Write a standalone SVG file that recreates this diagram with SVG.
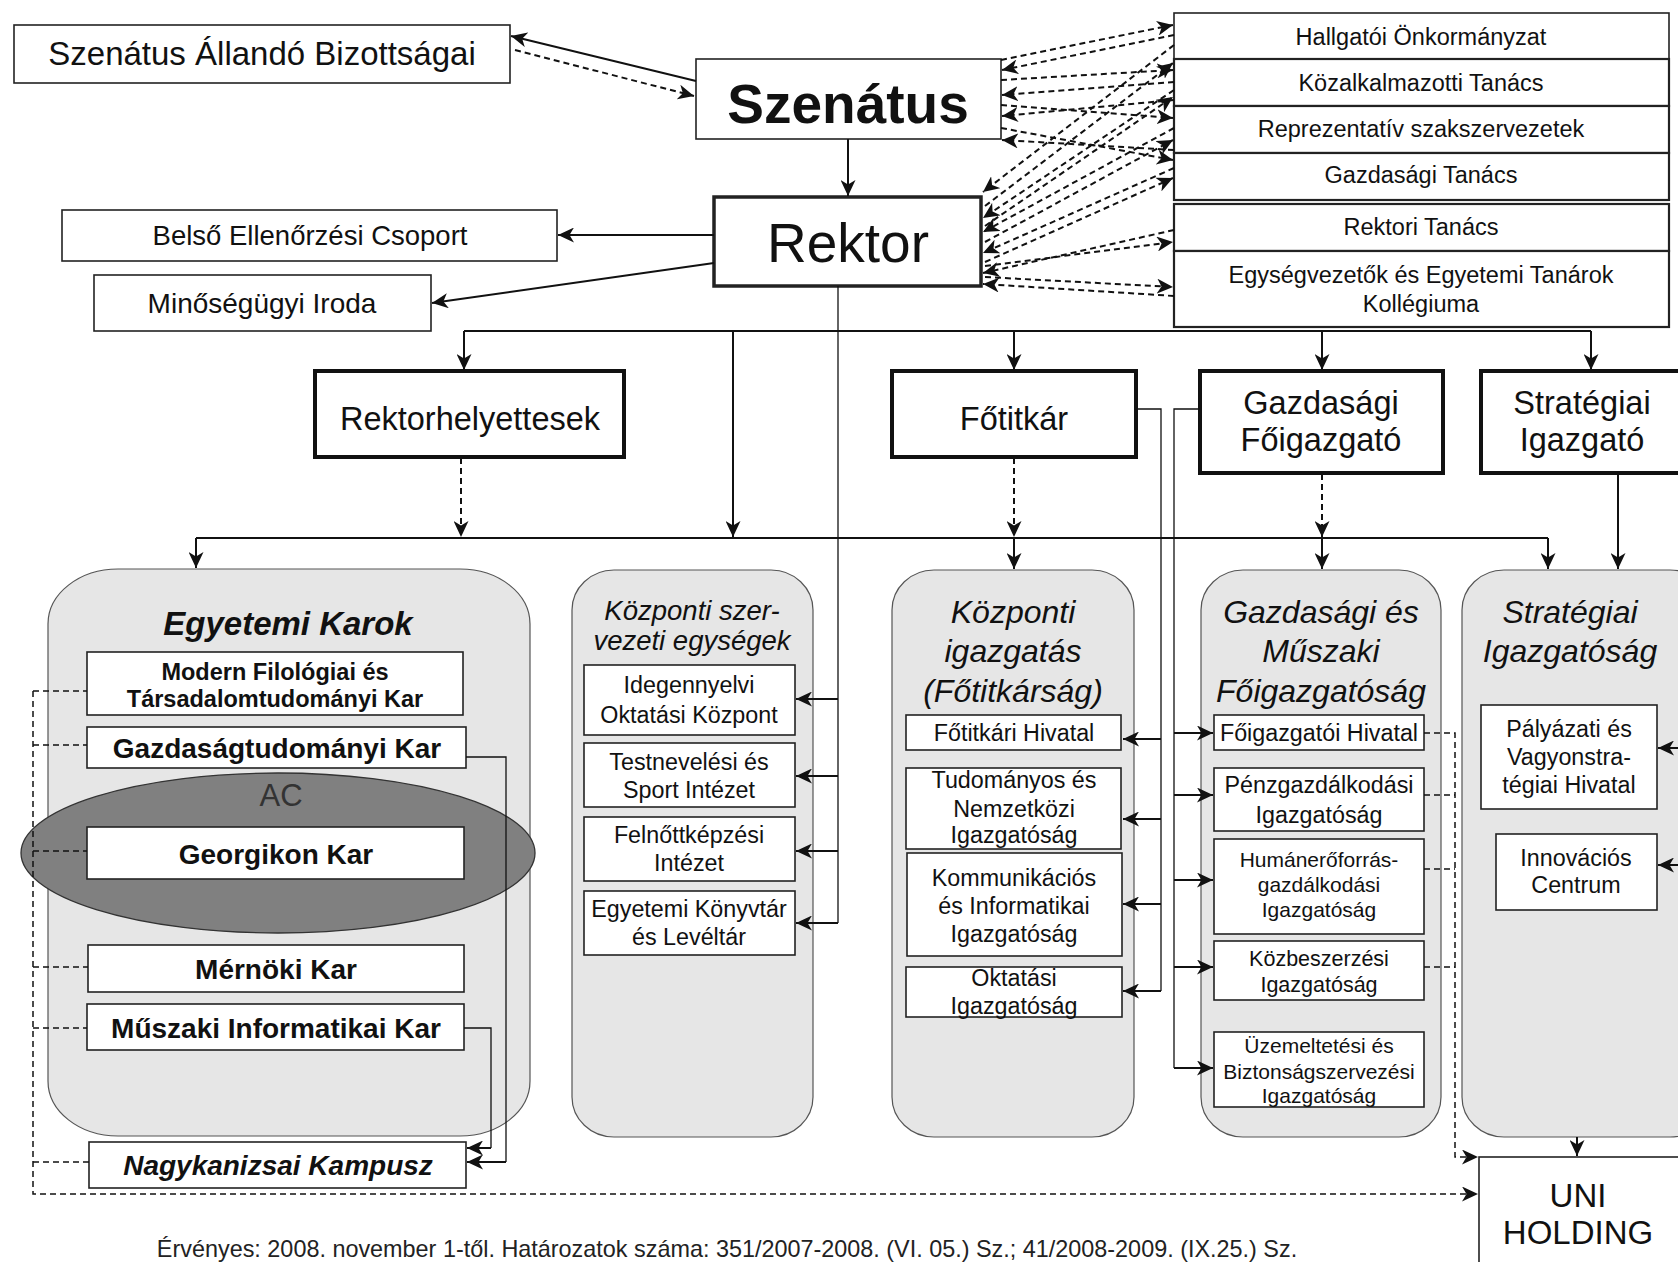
<svg xmlns="http://www.w3.org/2000/svg" width="1678" height="1262" viewBox="0 0 1678 1262">
<defs>
<marker id="ah" markerUnits="userSpaceOnUse" markerWidth="16" markerHeight="15" viewBox="0 0 16 15" refX="16" refY="7.5" orient="auto">
<path d="M0,0 L16,7.5 L0,15 L4.5,7.5 z" fill="#111"/>
</marker>
<style>
.bx{fill:#fff;stroke:#222;stroke-width:1.6}
.bk{fill:#fff;stroke:#111;stroke-width:4}
.ct{fill:#e6e6e6;stroke:#555;stroke-width:1.2}
text{font-family:"Liberation Sans",Arial,sans-serif;fill:#111;text-anchor:middle}
.b{font-weight:bold}
.i{font-style:italic}
.s{stroke:#111;stroke-width:2;fill:none}
.th{stroke:#111;stroke-width:1.3;fill:none}
.d{stroke:#111;stroke-width:2;fill:none;stroke-dasharray:6 4}
.dt{stroke:#111;stroke-width:1.5;fill:none;stroke-dasharray:6 4}
.m{marker-end:url(#ah)}
</style>
</defs>
<rect width="1678" height="1262" fill="#fff"/>

<g id="containers">
<g id="egyetemi-karok"><rect class="ct" x="48" y="569" width="482" height="567" rx="70" ry="55"/><text class="b i" x="288" y="635" font-size="33">Egyetemi Karok</text></g>
<g id="kozponti-szerv"><rect class="ct" x="572" y="570" width="241" height="567" rx="42" ry="40"/><text class="i" x="692" y="620" font-size="27.5">Központi szer-</text><text class="i" x="692" y="650" font-size="27.5">vezeti egységek</text></g>
<g id="kozponti-igazgatas"><rect class="ct" x="892" y="570" width="242" height="567" rx="42" ry="40"/><text class="i" x="1013" y="623" font-size="32">Központi</text><text class="i" x="1013" y="662" font-size="32">igazgatás</text><text class="i" x="1013" y="702" font-size="32">(Főtitkárság)</text></g>
<g id="gazdasagi-muszaki"><rect class="ct" x="1201" y="570" width="240" height="567" rx="42" ry="40"/><text class="i" x="1321" y="623" font-size="32">Gazdasági és</text><text class="i" x="1321" y="662" font-size="32">Műszaki</text><text class="i" x="1321" y="702" font-size="32">Főigazgatóság</text></g>
<g id="strategiai-igazgatosag"><rect class="ct" x="1462" y="570" width="250" height="567" rx="42" ry="40"/><text class="i" x="1570" y="623" font-size="32">Stratégiai</text><text class="i" x="1570" y="662" font-size="32">Igazgatóság</text></g>
</g>

<g id="ac"><ellipse cx="278" cy="853" rx="257" ry="80" fill="#808080" stroke="#333" stroke-width="1.3"/><text x="281" y="806" font-size="31" style="fill:#333">AC</text></g>

<g id="szenatus-allando"><rect class="bx" x="14" y="25" width="496" height="58"/><text x="262" y="65" font-size="33">Szenátus Állandó Bizottságai</text></g>
<g id="szenatus"><rect class="bx" x="696" y="59" width="305" height="80"/><text class="b" x="848" y="123" font-size="55">Szenátus</text></g>
<g id="rektor"><rect class="bx" x="714" y="197" width="267" height="89" style="stroke-width:3.5"/><text x="848" y="262" font-size="55">Rektor</text></g>
<g id="belso"><rect class="bx" x="62" y="210" width="495" height="51"/><text x="310" y="245" font-size="27.5">Belső Ellenőrzési Csoport</text></g>
<g id="minoseg"><rect class="bx" x="94" y="275" width="337" height="56"/><text x="262" y="313" font-size="28">Minőségügyi Iroda</text></g>

<g id="hallgatoi"><rect class="bx" x="1174" y="13" width="495" height="46"/><text x="1421" y="45" font-size="23.5">Hallgatói Önkormányzat</text></g>
<g id="kozalkalmazotti"><rect class="bx" x="1174" y="59" width="495" height="47" style="stroke-width:2.2"/><text x="1421" y="91" font-size="23.5">Közalkalmazotti Tanács</text></g>
<g id="reprezentativ"><rect class="bx" x="1174" y="106" width="495" height="47" style="stroke-width:2.2"/><text x="1421" y="137" font-size="23.5">Reprezentatív szakszervezetek</text></g>
<g id="gazdasagi-tanacs"><rect class="bx" x="1174" y="153" width="495" height="47" style="stroke-width:2.2"/><text x="1421" y="183" font-size="23.5">Gazdasági Tanács</text></g>
<g id="rektori-tanacs"><rect class="bx" x="1174" y="204" width="495" height="47" style="stroke-width:2.2"/><text x="1421" y="235" font-size="23.5">Rektori Tanács</text></g>
<g id="egysegvezetok"><rect class="bx" x="1174" y="251" width="495" height="76" style="stroke-width:2.2"/><text x="1421" y="283" font-size="23.5">Egységvezetők és Egyetemi Tanárok</text><text x="1421" y="312" font-size="23.5">Kollégiuma</text></g>

<g id="rektorhelyettesek"><rect class="bk" x="315" y="371" width="309" height="86"/><text x="470" y="430" font-size="32.5">Rektorhelyettesek</text></g>
<g id="fotitkar"><rect class="bk" x="892" y="371" width="244" height="86"/><text x="1014" y="430" font-size="32.5">Főtitkár</text></g>
<g id="gazdasagi-foigazgato"><rect class="bk" x="1200" y="371" width="243" height="102"/><text x="1321" y="414" font-size="32.5">Gazdasági</text><text x="1321" y="451" font-size="32.5">Főigazgató</text></g>
<g id="strategiai-igazgato"><rect class="bk" x="1481" y="371" width="230" height="102"/><text x="1582" y="414" font-size="32.5">Stratégiai</text><text x="1582" y="451" font-size="32.5">Igazgató</text></g>

<g id="modern"><rect class="bx" x="87" y="652" width="376" height="63"/><text class="b" x="275" y="680" font-size="23.5">Modern Filológiai és</text><text class="b" x="275" y="707" font-size="23.5">Társadalomtudományi Kar</text></g>
<g id="gazdasagtudomanyi"><rect class="bx" x="87" y="727" width="379" height="41"/><text class="b" x="277" y="758" font-size="28">Gazdaságtudományi Kar</text></g>
<g id="georgikon"><rect class="bx" x="87" y="827" width="377" height="52"/><text class="b" x="276" y="864" font-size="28">Georgikon Kar</text></g>
<g id="mernoki"><rect class="bx" x="88" y="945" width="376" height="47"/><text class="b" x="276" y="979" font-size="28">Mérnöki Kar</text></g>
<g id="muszaki"><rect class="bx" x="87" y="1004" width="377" height="46"/><text class="b" x="276" y="1038" font-size="28">Műszaki Informatikai Kar</text></g>
<g id="nagykanizsai"><rect class="bx" x="89" y="1142" width="377" height="46"/><text class="b i" x="278" y="1175" font-size="28">Nagykanizsai Kampusz</text></g>

<g id="idegennyelvi"><rect class="bx" x="584" y="665" width="211" height="70"/><text x="689" y="693" font-size="23.3">Idegennyelvi</text><text x="689" y="723" font-size="23.3">Oktatási Központ</text></g>
<g id="testnevelesi"><rect class="bx" x="584" y="743" width="211" height="64"/><text x="689" y="770" font-size="23.3">Testnevelési és</text><text x="689" y="798" font-size="23.3">Sport Intézet</text></g>
<g id="felnottkepzesi"><rect class="bx" x="584" y="817" width="211" height="64"/><text x="689" y="843" font-size="23.3">Felnőttképzési</text><text x="689" y="871" font-size="23.3">Intézet</text></g>
<g id="konyvtar"><rect class="bx" x="584" y="891" width="211" height="64"/><text x="689" y="917" font-size="23.3">Egyetemi Könyvtár</text><text x="689" y="945" font-size="23.3">és Levéltár</text></g>

<g id="fotitkari-hivatal"><rect class="bx" x="906" y="715" width="215" height="35"/><text x="1014" y="741" font-size="23.3">Főtitkári Hivatal</text></g>
<g id="tudomanyos"><rect class="bx" x="906" y="768" width="215" height="81"/><text x="1014" y="788" font-size="23.3">Tudományos és</text><text x="1014" y="817" font-size="23.3">Nemzetközi</text><text x="1014" y="843" font-size="23.3">Igazgatóság</text></g>
<g id="kommunikacios"><rect class="bx" x="907" y="853" width="215" height="103"/><text x="1014" y="886" font-size="23.3">Kommunikációs</text><text x="1014" y="914" font-size="23.3">és Informatikai</text><text x="1014" y="942" font-size="23.3">Igazgatóság</text></g>
<g id="oktatasi"><rect class="bx" x="906" y="967" width="216" height="50"/><text x="1014" y="986" font-size="23.3">Oktatási</text><text x="1014" y="1014" font-size="23.3">Igazgatóság</text></g>

<g id="foigazgatoi-hivatal"><rect class="bx" x="1214" y="715" width="210" height="35"/><text x="1319" y="741" font-size="23.3">Főigazgatói Hivatal</text></g>
<g id="penzgazdalkodasi"><rect class="bx" x="1214" y="768" width="210" height="63"/><text x="1319" y="793" font-size="23.3">Pénzgazdálkodási</text><text x="1319" y="823" font-size="23.3">Igazgatóság</text></g>
<g id="humaneroforras"><rect class="bx" x="1214" y="839" width="210" height="95"/><text x="1319" y="867" font-size="21">Humánerőforrás-</text><text x="1319" y="892" font-size="21">gazdálkodási</text><text x="1319" y="917" font-size="21">Igazgatóság</text></g>
<g id="kozbeszerzesi"><rect class="bx" x="1214" y="941" width="210" height="59"/><text x="1319" y="966" font-size="21.5">Közbeszerzési</text><text x="1319" y="992" font-size="21.5">Igazgatóság</text></g>
<g id="uzemeltetesi"><rect class="bx" x="1214" y="1032" width="210" height="75"/><text x="1319" y="1053" font-size="21">Üzemeltetési és</text><text x="1319" y="1079" font-size="21">Biztonságszervezési</text><text x="1319" y="1103" font-size="21">Igazgatóság</text></g>

<g id="palyazati"><rect class="bx" x="1481" y="705" width="176" height="104"/><text x="1569" y="737" font-size="23.3">Pályázati és</text><text x="1569" y="765" font-size="23.3">Vagyonstra-</text><text x="1569" y="793" font-size="23.3">tégiai Hivatal</text></g>
<g id="innovacios"><rect class="bx" x="1496" y="834" width="161" height="76"/><text x="1576" y="866" font-size="23.3">Innovációs</text><text x="1576" y="893" font-size="23.3">Centrum</text></g>

<g id="uni-holding"><rect class="bx" x="1479" y="1157" width="240" height="130"/><text x="1578" y="1207" font-size="33">UNI</text><text x="1578" y="1244" font-size="33">HOLDING</text></g>

<g id="connectors">
<path class="s m" d="M848,139 V196"/>
<path class="s m" d="M696,81 L511,36"/>
<path class="d m" d="M515,50 L694,96"/>
<path class="s m" d="M714,235 H558"/>
<path class="s m" d="M714,263 L432,303"/>
<path class="s" d="M464,331 H1591"/>
<path class="th" d="M838,286 V923"/>
<path class="s m" d="M464,331 V370"/>
<path class="s m" d="M733,331 V537"/>
<path class="s m" d="M1014,331 V370"/>
<path class="s m" d="M1322,331 V370"/>
<path class="s m" d="M1591,331 V370"/>
<path class="s" d="M196,538 H1548"/>
<path class="s m" d="M196,538 V568"/>
<path class="s m" d="M1014,538 V569"/>
<path class="s m" d="M1322,538 V569"/>
<path class="s m" d="M1548,538 V569"/>
<path class="s m" d="M1618,473 V569"/>
<path class="d m" d="M461,458 V537"/>
<path class="d m" d="M1014,458 V537"/>
<path class="d m" d="M1322,474 V537"/>
<path class="s m" d="M838,699 H796"/>
<path class="s m" d="M838,776 H796"/>
<path class="s m" d="M838,851 H796"/>
<path class="s m" d="M838,923 H796"/>
<path class="th" d="M1136,409 H1161 V991"/>
<path class="s m" d="M1161,739 H1123"/>
<path class="s m" d="M1161,819 H1123"/>
<path class="s m" d="M1161,904 H1123"/>
<path class="s m" d="M1161,991 H1123"/>
<path class="th" d="M1200,409 H1174 V1068"/>
<path class="s m" d="M1174,733 H1213"/>
<path class="s m" d="M1174,795 H1213"/>
<path class="s m" d="M1174,880 H1213"/>
<path class="s m" d="M1174,967 H1213"/>
<path class="s m" d="M1174,1068 H1213"/>
<path class="s m" d="M1678,748 H1658"/>
<path class="s m" d="M1678,865 H1658"/>
<path class="s m" d="M1577,1137 V1156"/>
<path class="th" d="M466,757 H506 V1162"/>
<path class="s m" d="M506,1162 H467"/>
<path class="th" d="M464,1028 H491 V1148"/>
<path class="s m" d="M491,1148 H467"/>
<path class="dt" d="M33,691 H87 M33,745 H87 M33,851 H87 M33,967 H88 M33,1028 H87 M33,1162 H89"/>
<path class="dt m" d="M33,691 V1194 H1478"/>
<path class="dt" d="M1424,795 H1455 M1424,869 H1455 M1424,967 H1455"/>
<path class="dt m" d="M1424,733 H1455 V1157 H1478"/>
<g id="mesh">
<path class="d m" d="M1001,60 L1173,25"/>
<path class="d m" d="M1174,35 L1002,70"/>
<path class="d m" d="M1001,80 L1173,70"/>
<path class="d m" d="M1174,82 L1002,95"/>
<path class="d m" d="M1001,105 L1173,118"/>
<path class="d m" d="M1174,100 L1002,116"/>
<path class="d m" d="M1001,128 L1173,160"/>
<path class="d m" d="M1174,150 L1002,140"/>
<path class="d m" d="M1174,45 L983,192"/>
<path class="d m" d="M985,206 L1173,63"/>
<path class="d m" d="M1174,90 L983,218"/>
<path class="d m" d="M985,226 L1173,97"/>
<path class="d m" d="M1174,128 L983,232"/>
<path class="d m" d="M985,242 L1173,140"/>
<path class="d m" d="M1174,168 L983,253"/>
<path class="d m" d="M985,262 L1173,178"/>
<path class="d m" d="M1174,230 L983,273"/>
<path class="d m" d="M985,266 L1173,242"/>
<path class="d m" d="M1174,296 L983,284"/>
<path class="d m" d="M985,277 L1173,287"/>
</g>
</g>

<text x="727" y="1257" font-size="23.4" style="fill:#222">Érvényes: 2008. november 1-től. Határozatok száma: 351/2007-2008. (VI. 05.) Sz.; 41/2008-2009. (IX.25.) Sz.</text>
</svg>
